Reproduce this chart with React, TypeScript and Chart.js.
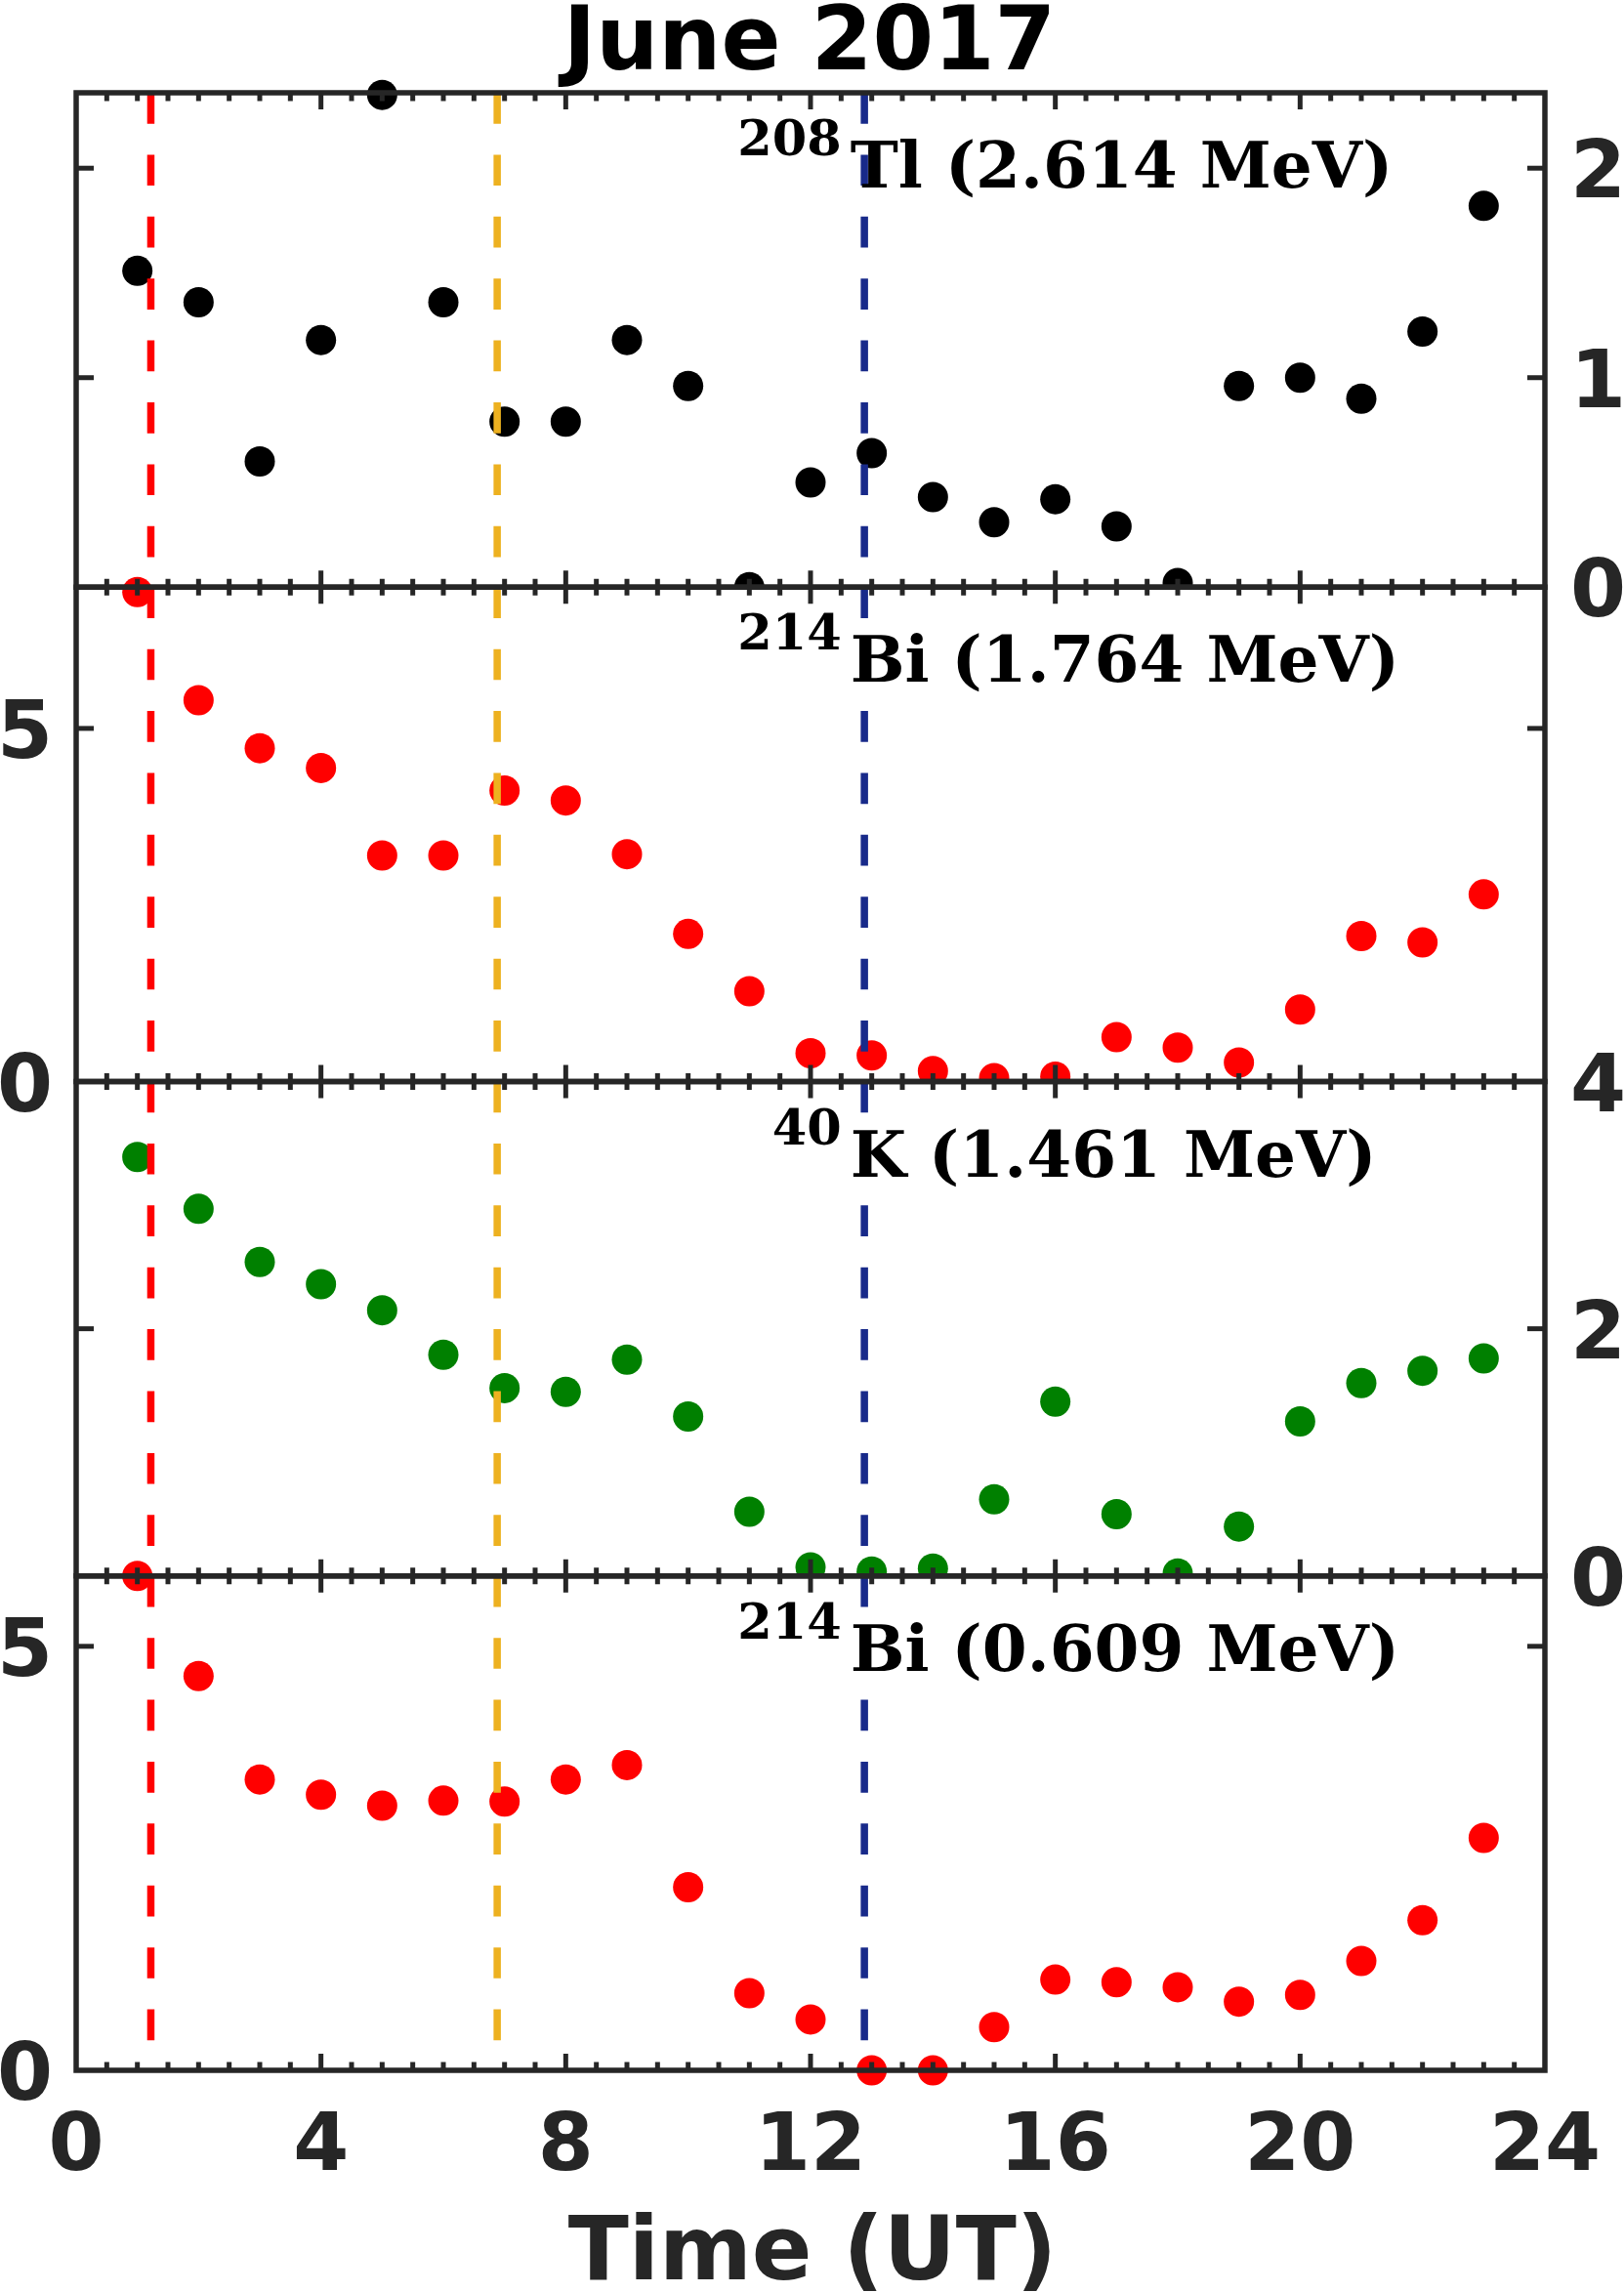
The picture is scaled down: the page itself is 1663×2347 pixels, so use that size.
import { useEffect, useRef } from "react"
import { Chart, registerables } from "chart.js"

Chart.register(...registerables)

// Hour of the day (UT)
const hours = [1, 2, 3, 4, 5, 6, 7, 8, 9, 10, 11, 12, 13, 14, 15, 16, 17, 18, 19, 20, 21, 22, 23]

// Values
const tl208 = [1.51, 1.36, 0.6, 1.18, 2.35, 1.36, 0.79, 0.79, 1.18, 0.96, 0.0, 0.5, 0.64, 0.43, 0.31, 0.42, 0.29, 0.02, 0.96, 1.0, 0.9, 1.22, 1.82]
const bi214High = [6.93, 5.4, 4.72, 4.44, 3.2, 3.2, 4.12, 3.98, 3.22, 2.09, 1.28, 0.4, 0.37, 0.15, 0.05, 0.07, 0.63, 0.48, 0.27, 1.02, 2.06, 1.97, 2.65]
const k40 = [3.39, 2.97, 2.54, 2.36, 2.15, 1.79, 1.52, 1.49, 1.75, 1.29, 0.52, 0.07, 0.035, 0.06, 0.62, 1.41, 0.5, 0.02, 0.4, 1.25, 1.56, 1.66, 1.76]
const bi214Low = [5.83, 4.65, 3.43, 3.25, 3.12, 3.18, 3.17, 3.43, 3.6, 2.16, 0.91, 0.6, 0.0, 0.0, 0.51, 1.07, 1.04, 0.98, 0.81, 0.89, 1.29, 1.77, 2.74]

// y ticks per panel
const tlTicks = [0, 1, 2]
const biHighTicks = [0, 5]
const kTicks = [0, 2, 4]
const biLowTicks = [0, 5]

// x ticks
const xTicks = [0, 4, 8, 12, 16, 20, 24]

// dashed event markers (UT)
const eventTimes = [1.22, 6.88, 12.88]
const eventColors = ["#ff0000", "#edb120", "#182a8a"]

const AXIS = "#262626"

const panels = [
  { id: "yTl", data: tl208, max: 2.36, ticks: tlTicks, side: "right", color: "#000000", mass: "208", name: "Tl (2.614 MeV)" },
  { id: "yBiHigh", data: bi214High, max: 7, ticks: biHighTicks, side: "left", color: "#ff0000", mass: "214", name: "Bi (1.764 MeV)" },
  { id: "yK", data: k40, max: 4, ticks: kTicks, side: "right", color: "#008000", mass: "40", name: "K (1.461 MeV)" },
  { id: "yBiLow", data: bi214Low, max: 5.83, ticks: biLowTicks, side: "left", color: "#ff0000", mass: "214", name: "Bi (0.609 MeV)" },
]

const framePlugin = {
  id: "framePlugin",
  afterDatasetsDraw(chart: any) {
    const ctx: CanvasRenderingContext2D = chart.ctx
    const xs = chart.scales.x
    const left = xs.left
    const right = xs.right

    const line = (x1: number, y1: number, x2: number, y2: number) => {
      ctx.beginPath()
      ctx.moveTo(x1, y1)
      ctx.lineTo(x2, y2)
      ctx.stroke()
    }

    ctx.save()

    // dashed vertical lines, restarted in every panel
    ctx.lineWidth = 7.5
    ctx.lineCap = "butt"
    ctx.setLineDash([31.7, 31.7])
    panels.forEach((p) => {
      const ys = chart.scales[p.id]
      eventTimes.forEach((t, i) => {
        const px = xs.getPixelForValue(t)
        ctx.strokeStyle = eventColors[i]
        line(px, ys.top, px, ys.bottom)
      })
    })
    ctx.setLineDash([])

    // frames and inward ticks
    ctx.strokeStyle = AXIS
    panels.forEach((p) => {
      const ys = chart.scales[p.id]
      const top = ys.top
      const bottom = ys.bottom
      ctx.lineWidth = 5
      for (let v = 0.5; v < 24; v += 0.5) {
        const px = xs.getPixelForValue(v)
        const len = v % 4 === 0 ? 17 : 8.5
        line(px, top, px, top + len)
        line(px, bottom, px, bottom - len)
      }
      p.ticks.forEach((v) => {
        if (v <= ys.min || v >= ys.max) return
        const py = ys.getPixelForValue(v)
        line(left, py, left + 18, py)
        line(right, py, right - 18, py)
      })
      ctx.lineWidth = 5.5
      ctx.strokeRect(left, top, right - left, bottom - top)
    })

    // y tick labels
    ctx.fillStyle = AXIS
    ctx.font = "bold 82px 'DejaVu Sans'"
    ctx.textBaseline = "alphabetic"
    panels.forEach((p) => {
      const ys = chart.scales[p.id]
      p.ticks.forEach((v) => {
        const py = ys.getPixelForValue(v) + 30
        if (p.side === "right") {
          ctx.textAlign = "left"
          ctx.fillText(String(v), right + 26, py)
        } else {
          ctx.textAlign = "right"
          ctx.fillText(String(v), left - 24, py)
        }
      })
    })

    // x tick labels
    const bottomPanel = chart.scales[panels[panels.length - 1].id]
    ctx.textAlign = "center"
    xTicks.forEach((v) => {
      ctx.fillText(String(v), xs.getPixelForValue(v), bottomPanel.bottom + 102)
    })

    // axis title and figure title
    const mid = (left + right) / 2
    ctx.font = "bold 91px 'DejaVu Sans'"
    ctx.fillText("Time (UT)", mid + 2, bottomPanel.bottom + 214)
    ctx.fillStyle = "#000000"
    ctx.font = "bold 90px 'DejaVu Sans'"
    ctx.fillText("June 2017", mid - 1, xs.top - 24)

    // isotope labels
    const anchor = xs.getPixelForValue(12.65)
    panels.forEach((p) => {
      const ys = chart.scales[p.id]
      const base = ys.top + 97
      ctx.fillStyle = "#000000"
      ctx.font = "bold 66px 'DejaVu Serif'"
      ctx.textAlign = "left"
      ctx.fillText(p.name, anchor, base)
      ctx.font = "bold 51px 'DejaVu Serif'"
      ctx.textAlign = "right"
      ctx.fillText(p.mass, anchor - 9, base - 33)
    })

    ctx.restore()
  },
}

export default function App() {
  const chartRef = useRef<HTMLCanvasElement>(null)
  const chartInstance = useRef<Chart | null>(null)

  useEffect(() => {
    if (!chartRef.current) return

    if (chartInstance.current) {
      chartInstance.current.destroy()
    }

    const ctx = chartRef.current.getContext("2d")
    if (!ctx) return

    const scales: any = {
      x: { type: "linear", position: "top", display: false, min: 0, max: 24 },
    }
    panels.forEach((p) => {
      scales[p.id] = {
        type: "linear",
        position: "right",
        stack: "panels",
        stackWeight: 1,
        display: false,
        min: 0,
        max: p.max,
      }
    })

    chartInstance.current = new Chart(ctx, {
      type: "scatter",
      data: {
        datasets: panels.map((p, i) => ({
          label: p.name,
          data: hours.map((h, j) => ({ x: h, y: p.data[j] })),
          xAxisID: "x",
          yAxisID: p.id,
          backgroundColor: p.color,
          borderColor: p.color,
          borderWidth: 0,
          pointRadius: 15.5,
          pointHoverRadius: 15.5,
          clip: i === panels.length - 1 ? false : { left: false, top: false, right: false, bottom: 0 },
        })),
      },
      options: {
        animation: false,
        responsive: true,
        maintainAspectRatio: false,
        devicePixelRatio: 1,
        events: [],
        layout: { padding: { left: 78, right: 81, top: 95, bottom: 227 } },
        plugins: {
          legend: { display: false },
          tooltip: { enabled: false },
        },
        scales,
      },
      plugins: [framePlugin],
    } as any)

    return () => {
      if (chartInstance.current) {
        chartInstance.current.destroy()
        chartInstance.current = null
      }
    }
  }, [])

  return (
    <div style={{ position: "absolute", left: 0, top: 0, width: 1663, height: 2347, background: "#ffffff" }}>
      <canvas ref={chartRef} />
    </div>
  )
}
